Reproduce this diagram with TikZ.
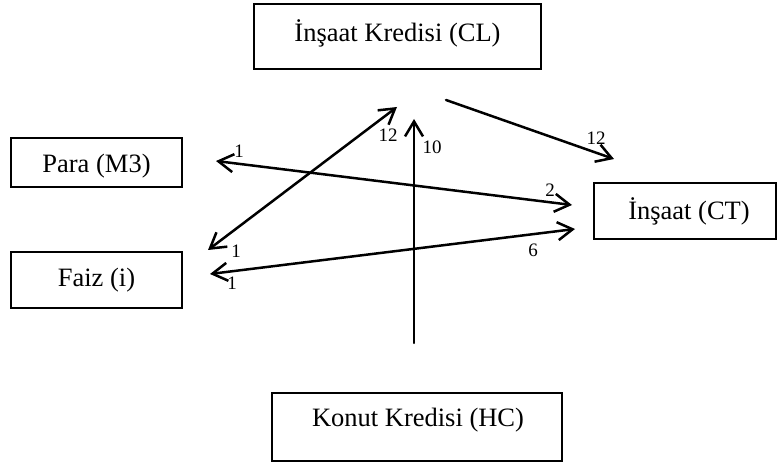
\documentclass[tikz,border=0pt]{standalone}
\usepackage{fontspec}
\setmainfont{Liberation Serif}
\usetikzlibrary{arrows.meta}
\begin{document}
\begin{tikzpicture}[x=1pt,y=-1pt,
  box/.style={draw=black, line width=1.6pt, inner sep=0pt},
  boxtext/.style={anchor=base, inner sep=0pt, font=\fontsize{26.5}{30}\selectfont},
  num/.style={inner sep=0pt, font=\fontsize{19}{22}\selectfont},
  tip/.style={Straight Barb[length=15pt,width=18pt,line width=2.5pt]},
  link/.style={line width=2.5pt, black, line cap=round, arrows={-Straight Barb[length=15pt,width=18pt,line width=2.5pt]}},
  dlink/.style={line width=2.5pt, black, line cap=round,
    arrows={Straight Barb[length=15pt,width=18pt,line width=2.5pt]-Straight Barb[length=15pt,width=18pt,line width=2.5pt]}}]
\useasboundingbox (0,0) rectangle (780,465);

% boxes with their titles
\node[box, minimum width=287pt, minimum height=65pt] (cl) at (397.5,36.5) {};
\node[boxtext] (cltxt) at (397.5,42) {İnşaat Kredisi (CL)};
\node[box, minimum width=171pt, minimum height=49pt] (m3) at (96.5,162.5) {};
\node[boxtext] (m3txt) at (96.5,173) {Para (M3)};
\node[box, minimum width=171pt, minimum height=56pt] (fi) at (96.5,280) {};
\node[boxtext] (fitxt) at (96.5,287) {Faiz (i)};
\node[box, minimum width=182pt, minimum height=56pt] (ct) at (685,211) {};
\node[boxtext] (cttxt) at (689,220) {İnşaat (CT)};
\node[box, minimum width=290pt, minimum height=68pt] (hc) at (417,427) {};
\node[boxtext] (hctxt) at (418,426) {Konut Kredisi (HC)};

% arrow end points
\coordinate (clout) at (446,100);
\coordinate (ctin) at (614,159);
\coordinate (hcup) at (414,343);
\coordinate (cldown) at (414,119);
\coordinate (fiup) at (208,250);
\coordinate (clleft) at (397,107);
\coordinate (m3end) at (216,161);
\coordinate (ctup) at (572,205);
\coordinate (fiend) at (210,274);
\coordinate (ctlow) at (575,229);

% connectors
\draw[link] (clout) -- (ctin);
\draw[link] (hcup) -- (cldown);
\draw[dlink] (fiup) -- (clleft);
\draw[dlink] (m3end) -- (ctup);
\draw[dlink] (fiend) -- (ctlow);

% lag labels
\node[num] (n1) at (388,135) {12};
\node[num] (n2) at (432,147) {10};
\node[num] (n3) at (239,151) {1};
\node[num] (n4) at (596,138) {12};
\node[num] (n5) at (550,190) {2};
\node[num] (n6) at (236,251) {1};
\node[num] (n7) at (232,283) {1};
\node[num] (n8) at (533,250) {6};
\end{tikzpicture}
\end{document}
